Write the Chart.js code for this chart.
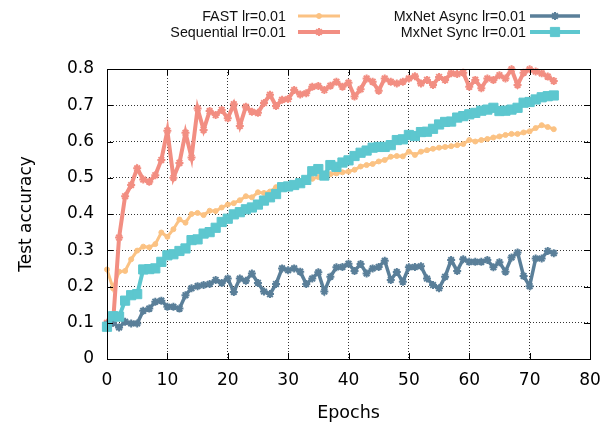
<!DOCTYPE html>
<html>
<head>
<meta charset="utf-8">
<script src="https://cdn.jsdelivr.net/npm/chart.js@4/dist/chart.umd.min.js"></script>
<style>
  html, body { margin: 0; padding: 0; background: #fff; }
  #wrap { width: 616px; height: 428px; }
</style>
</head>
<body>
<div id="wrap"><canvas id="accChart" width="616" height="428"></canvas></div>
<script>
// --- data ---
const epochs = [0,1,2,3,4,5,6,7,8,9,10,11,12,13,14,15,16,17,18,19,20,21,22,23,24,25,26,27,28,29,30,31,32,33,34,35,36,37,38,39,40,41,42,43,44,45,46,47,48,49,50,51,52,53,54,55,56,57,58,59,60,61,62,63,64,65,66,67,68,69,70,71,72,73,74];

const fastAcc = [0.247,0.195,0.241,0.243,0.275,0.299,0.31,0.308,0.317,0.349,
  0.337,0.358,0.385,0.376,0.40,0.403,0.397,0.409,0.408,0.418,
  0.426,0.43,0.438,0.449,0.446,0.46,0.458,0.462,0.474,0.476,
  0.479,0.482,0.488,0.493,0.497,0.502,0.504,0.51,0.512,0.515,
  0.517,0.522,0.531,0.535,0.538,0.545,0.549,0.558,0.56,0.559,
  0.572,0.563,0.572,0.576,0.58,0.583,0.585,0.587,0.59,0.593,
  0.604,0.60,0.604,0.607,0.611,0.614,0.618,0.621,0.621,0.625,
  0.628,0.637,0.645,0.64,0.634];

const seqAcc = [0.10,0.10,0.335,0.449,0.48,0.526,0.495,0.489,0.507,0.549,
  0.63,0.50,0.541,0.624,0.556,0.691,0.632,0.684,0.673,0.687,
  0.664,0.703,0.643,0.696,0.682,0.679,0.706,0.729,0.698,0.715,
  0.717,0.742,0.73,0.733,0.751,0.753,0.742,0.754,0.765,0.751,
  0.762,0.724,0.744,0.774,0.765,0.74,0.774,0.765,0.76,0.765,
  0.774,0.78,0.76,0.77,0.756,0.778,0.77,0.788,0.786,0.79,
  0.751,0.77,0.747,0.774,0.77,0.783,0.774,0.799,0.756,0.79,
  0.799,0.793,0.788,0.779,0.767];

const asyncAcc = [0.095,0.10,0.087,0.103,0.098,0.098,0.133,0.139,0.158,0.161,
  0.144,0.144,0.139,0.176,0.195,0.201,0.204,0.207,0.218,0.21,
  0.222,0.185,0.222,0.216,0.236,0.21,0.186,0.179,0.207,0.25,
  0.245,0.25,0.241,0.207,0.222,0.239,0.186,0.227,0.253,0.254,
  0.263,0.243,0.262,0.236,0.25,0.254,0.271,0.218,0.24,0.213,
  0.253,0.254,0.256,0.222,0.204,0.195,0.227,0.273,0.243,0.275,
  0.268,0.268,0.268,0.273,0.253,0.267,0.241,0.28,0.294,0.229,
  0.201,0.277,0.277,0.298,0.292];

const syncAcc = [0.089,0.118,0.117,0.161,0.176,0.179,0.247,0.248,0.25,0.268,
  0.286,0.289,0.298,0.305,0.328,0.33,0.346,0.35,0.362,0.378,
  0.387,0.399,0.405,0.413,0.418,0.426,0.437,0.446,0.455,0.474,
  0.476,0.48,0.485,0.494,0.518,0.524,0.506,0.535,0.53,0.542,
  0.548,0.56,0.569,0.575,0.583,0.585,0.585,0.59,0.604,0.606,
  0.618,0.615,0.626,0.627,0.635,0.647,0.654,0.655,0.666,0.670,
  0.675,0.679,0.685,0.688,0.693,0.684,0.685,0.688,0.693,0.707,
  0.709,0.716,0.722,0.725,0.727];

const AXIS_FONT = "'DejaVu Sans', sans-serif";
const KEY_FONT = "'Liberation Sans', Arial, Helvetica, sans-serif";

function toPoints(values) {
  return values.map((v, i) => ({ x: epochs[i], y: v }));
}

// gnuplot-ish frame: solid box plus small inward ticks, and the two-column key
const framePlugin = {
  id: 'frame',
  afterDatasetsDraw(chart) {
    const { ctx, chartArea: a, scales } = chart;
    ctx.save();
    ctx.strokeStyle = '#000';
    ctx.lineWidth = 1;
    ctx.setLineDash([]);
    ctx.strokeRect(Math.round(a.left) + 0.5, Math.round(a.top) + 0.5,
      Math.round(a.right - a.left), Math.round(a.bottom - a.top));
    const len = 6;
    ctx.beginPath();
    scales.x.ticks.forEach(t => {
      const px = Math.round(scales.x.getPixelForValue(t.value)) + 0.5;
      ctx.moveTo(px, a.bottom); ctx.lineTo(px, a.bottom - len);
      ctx.moveTo(px, a.top); ctx.lineTo(px, a.top + len);
    });
    scales.y.ticks.forEach(t => {
      const py = Math.round(scales.y.getPixelForValue(t.value)) + 0.5;
      ctx.moveTo(a.left, py); ctx.lineTo(a.left + len, py);
      ctx.moveTo(a.right, py); ctx.lineTo(a.right - len, py);
    });
    ctx.stroke();
    ctx.restore();
  },
  afterDraw(chart) {
    const { ctx } = chart;
    const ds = chart.data.datasets;
    const slots = [
      { i: 0, textX: 286, x0: 298, x1: 340, y: 16 },
      { i: 1, textX: 286, x0: 298, x1: 340, y: 32 },
      { i: 2, textX: 526, x0: 530, x1: 580, y: 16 },
      { i: 3, textX: 526, x0: 530, x1: 580, y: 32 }
    ];
    ctx.save();
    ctx.font = '14.3px ' + KEY_FONT;
    ctx.textAlign = 'right';
    ctx.textBaseline = 'middle';
    slots.forEach(s => {
      const d = ds[s.i];
      ctx.fillStyle = '#111';
      ctx.fillText(d.label, s.textX, s.y + 1);
      ctx.strokeStyle = d.borderColor;
      ctx.lineWidth = d.borderWidth;
      ctx.beginPath();
      ctx.moveTo(s.x0, s.y); ctx.lineTo(s.x1, s.y);
      ctx.stroke();
      ctx.fillStyle = d.pointBackgroundColor;
      ctx.strokeStyle = d.pointBorderColor;
      ctx.lineWidth = d.pointBorderWidth;
      Chart.helpers.drawPoint(ctx, {
        pointStyle: d.pointStyle,
        radius: d.pointRadius,
        borderWidth: d.pointBorderWidth
      }, (s.x0 + s.x1) / 2, s.y);
    });
    ctx.restore();
  }
};

const ctx = document.getElementById('accChart').getContext('2d');
new Chart(ctx, {
  type: 'line',
  data: {
    datasets: [
      {
        label: 'FAST lr=0.01',
        data: toPoints(fastAcc),
        order: 4,
        borderColor: '#FBC283',
        borderWidth: 3,
        pointStyle: 'circle',
        pointRadius: 2.5,
        pointBorderWidth: 1,
        pointBackgroundColor: '#FBC283',
        pointBorderColor: '#FBC283',
        tension: 0,
        clip: false
      },
      {
        label: 'Sequential lr=0.01',
        data: toPoints(seqAcc),
        order: 3,
        borderColor: '#F28E82',
        borderWidth: 4,
        pointStyle: 'star',
        pointRadius: 4,
        pointBorderWidth: 2,
        pointBackgroundColor: '#F28E82',
        pointBorderColor: '#F28E82',
        tension: 0,
        clip: false
      },
      {
        label: 'MxNet Async lr=0.01',
        data: toPoints(asyncAcc),
        order: 2,
        borderColor: '#5A7F99',
        borderWidth: 3.5,
        pointStyle: 'star',
        pointRadius: 4,
        pointBorderWidth: 2,
        pointBackgroundColor: '#5A7F99',
        pointBorderColor: '#5A7F99',
        tension: 0,
        clip: false
      },
      {
        label: 'MxNet Sync lr=0.01',
        data: toPoints(syncAcc),
        order: 1,
        borderColor: '#5DC7CF',
        borderWidth: 4,
        pointStyle: 'rect',
        pointRadius: 6.5,
        pointBorderWidth: 1,
        pointBackgroundColor: '#5DC7CF',
        pointBorderColor: '#5DC7CF',
        tension: 0,
        clip: false
      }
    ]
  },
  options: {
    responsive: false,
    animation: false,
    events: [],
    layout: {
      autoPadding: false,
      padding: { top: 69, right: 26, bottom: 0, left: 0 }
    },
    plugins: {
      legend: { display: false },
      tooltip: { enabled: false }
    },
    scales: {
      x: {
        type: 'linear',
        min: 0,
        max: 80,
        ticks: {
          stepSize: 10,
          color: '#000',
          padding: 11,
          maxRotation: 0,
          font: { family: AXIS_FONT, size: 17 }
        },
        grid: { color: '#333', lineWidth: 1, drawTicks: false, tickLength: 0 },
        border: { display: false, dash: [1, 2] },
        title: {
          display: true,
          text: 'Epochs',
          color: '#000',
          padding: { top: 0, bottom: 4 },
          font: { family: AXIS_FONT, size: 17.5 }
        },
        afterFit(scale) { scale.height = 69; }
      },
      y: {
        min: 0,
        max: 0.8,
        ticks: {
          stepSize: 0.1,
          color: '#000',
          padding: 13,
          font: { family: AXIS_FONT, size: 17 }
        },
        grid: { color: '#333', lineWidth: 1, drawTicks: false, tickLength: 0 },
        border: { display: false, dash: [1, 2] },
        title: {
          display: true,
          text: 'Test accuracy',
          color: '#000',
          padding: { top: 16, bottom: 0 },
          font: { family: AXIS_FONT, size: 17 }
        },
        afterFit(scale) { scale.width = 107; }
      }
    }
  },
  plugins: [framePlugin]
});
</script>
</body>
</html>
